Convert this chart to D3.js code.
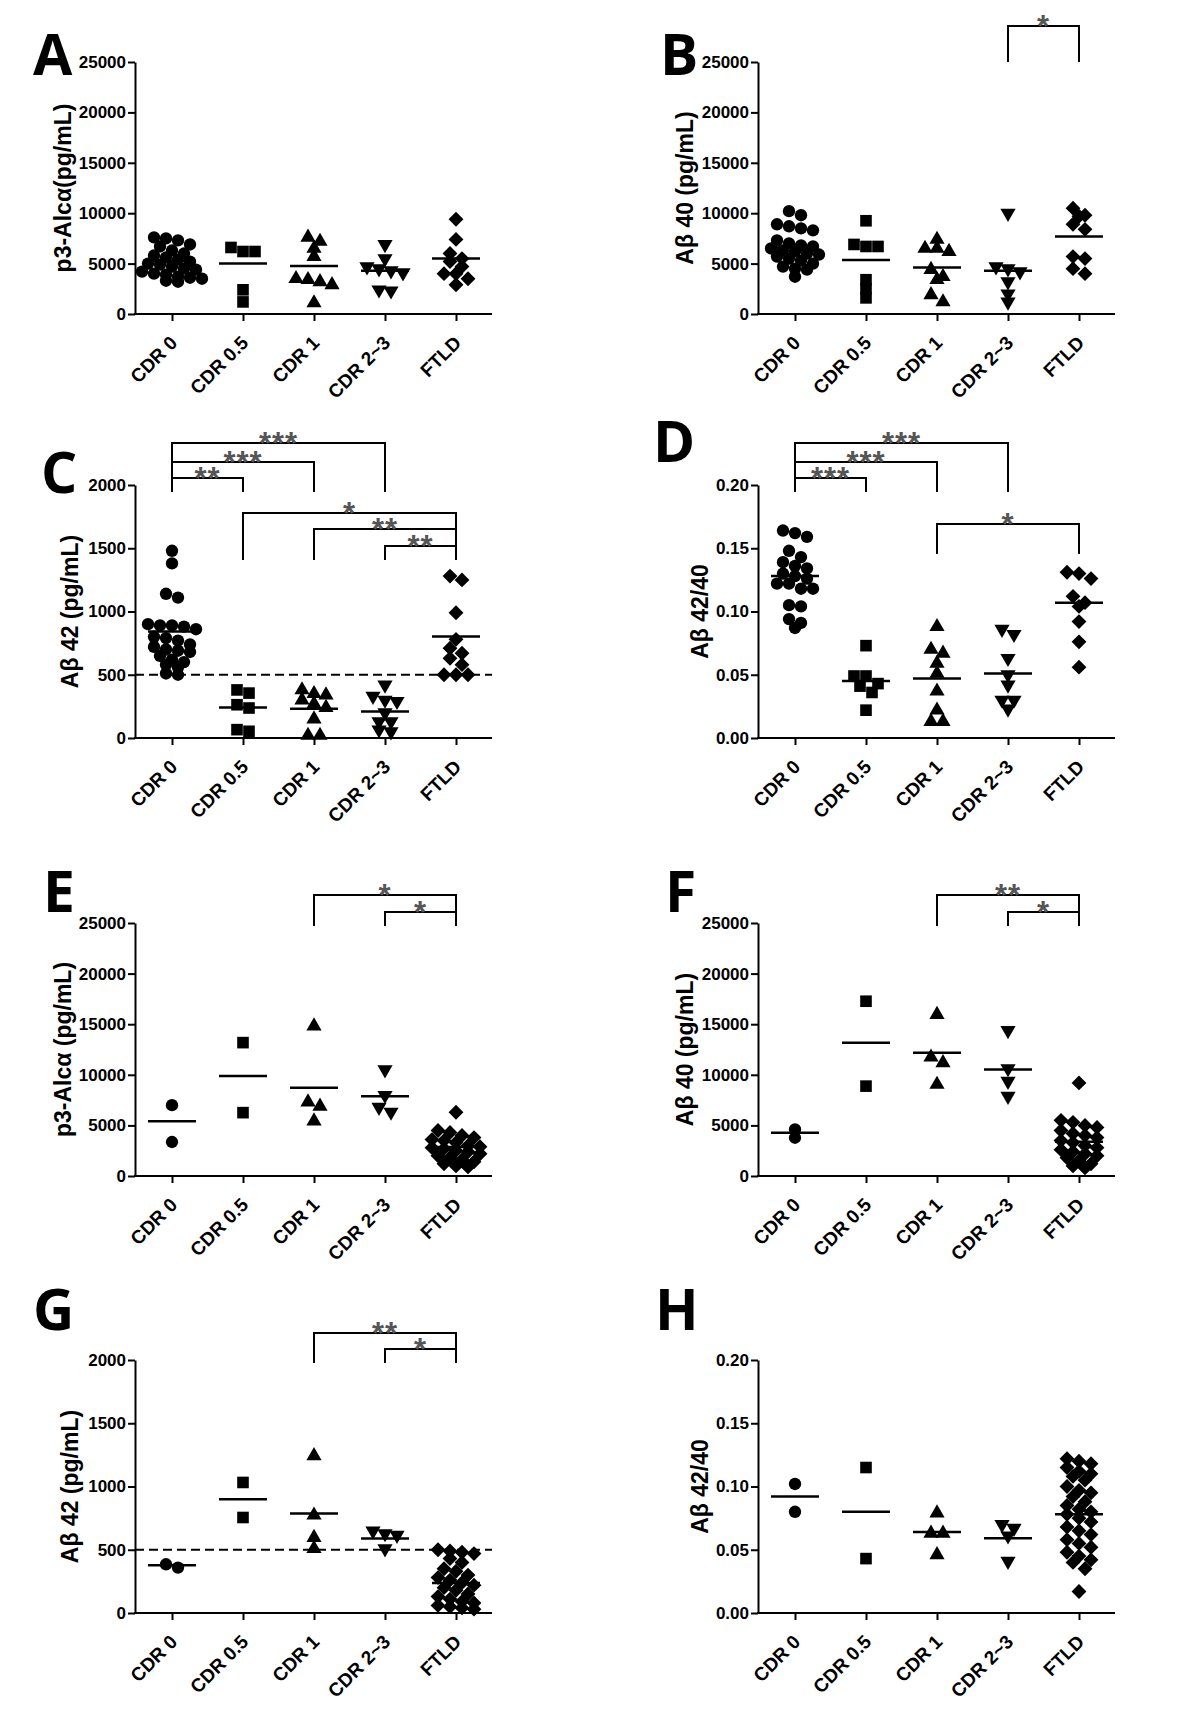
<!DOCTYPE html>
<html><head><meta charset="utf-8">
<script src="https://cdn.jsdelivr.net/npm/d3@7"></script>
<style>
body{margin:0;background:#fff}
svg text{font-family:"Liberation Sans",Arial,Helvetica,sans-serif;}
</style>
</head><body>
<svg id="c" width="1200" height="1714"></svg>
<script>
// ---------------- DATA ----------------
const categories = ["CDR 0", "CDR 0.5", "CDR 1", "CDR 2~3", "FTLD"];

const ticksConc = [0, 5000, 10000, 15000, 20000, 25000];
const ticksAb42 = [0, 500, 1000, 1500, 2000];
const ticksRatio = [0, 0.05, 0.10, 0.15, 0.20];

// Panel A: p3-Alcα (pg/mL)
const valuesA = [
  [7600, 7500, 7300, 6900, 6700, 6300, 6000, 5800, 5600, 5400, 5200, 5000, 4900, 4700, 4500, 4400, 4200, 4000, 3900, 3700, 3600, 3500, 3300, 3200],
  [6600, 6200, 6200, 2400, 1200],
  [7600, 7200, 6500, 5700, 3500, 3400, 3200, 2900, 1100],
  [6900, 5500, 4700, 4500, 4300, 4100, 2400, 2300],
  [9400, 7400, 6000, 5500, 5200, 4700, 4000, 4000, 3500, 2900]
];
const meansA = [5250, 5020, 4750, 4300, 5500];

// Panel B: Aβ 40 (pg/mL)
const valuesB = [
  [10200, 9800, 8900, 8700, 8500, 8300, 7300, 7000, 6800, 6700, 6500, 6300, 6200, 6000, 5900, 5700, 5500, 5300, 5000, 4700, 4500, 4400, 3700],
  [9250, 6900, 6700, 6700, 3400, 2500, 1600],
  [7400, 6500, 6500, 6200, 4400, 3700, 3400, 1900, 1200],
  [10000, 4700, 4500, 4200, 3200, 2000, 1200],
  [10500, 9800, 9700, 8900, 8400, 5700, 5500, 4500, 4000]
];
const meansB = [6600, 5350, 4620, 4300, 7700];

// Panel C: Aβ 42 (pg/mL)
const valuesC = [
  [1480, 1380, 1140, 1110, 900, 890, 890, 880, 860, 800, 790, 770, 740, 720, 700, 690, 680, 650, 620, 600, 580, 560, 510, 500],
  [380, 355, 263, 237, 66, 53],
  [380, 350, 340, 300, 270, 240, 150, 20, 20],
  [420, 330, 300, 290, 200, 130, 130, 65, 50],
  [1280, 1250, 990, 780, 710, 670, 630, 580, 500, 500, 500]
];
const meansC = [842, 242, 232, 210, 803];

// Panel D: Aβ 42/40
const valuesD = [
  [0.164, 0.162, 0.159, 0.148, 0.143, 0.139, 0.136, 0.134, 0.130, 0.128, 0.126, 0.122, 0.122, 0.118, 0.118, 0.105, 0.104, 0.094, 0.091, 0.087],
  [0.073, 0.049, 0.049, 0.043, 0.041, 0.036, 0.022],
  [0.088, 0.070, 0.067, 0.059, 0.051, 0.037, 0.022, 0.013, 0.013],
  [0.086, 0.082, 0.063, 0.050, 0.042, 0.030, 0.030, 0.023],
  [0.131, 0.130, 0.126, 0.112, 0.107, 0.104, 0.092, 0.076, 0.056]
];
const meansD = [0.128, 0.045, 0.047, 0.051, 0.107];

// Panel E: p3-Alcα (pg/mL)
const valuesE = [
  [7000, 3360],
  [13180, 6260],
  [14820, 7300, 6880, 5430],
  [10500, 7970, 6800, 6320],
  [6300, 4500, 4300, 4000, 3800, 3600, 3500, 3300, 3000, 2900, 2800, 2700, 2500, 2400, 2200, 2000, 1800, 1600, 1400, 1200, 1000, 900]
];
const meansE = [5400, 9880, 8730, 7870, 2870];

// Panel F: Aβ 40 (pg/mL)
const valuesF = [
  [4600, 3780],
  [17270, 8880],
  [15950, 11740, 11180, 9050],
  [14380, 10620, 9375, 7890],
  [9200, 5500, 5300, 5000, 4800, 4500, 4200, 4000, 3800, 3500, 3300, 3000, 2800, 2600, 2400, 2200, 2000, 1800, 1500, 1200, 1000, 800]
];
const meansF = [4280, 13160, 12170, 10530, 3390];

// Panel G: Aβ 42 (pg/mL)
const valuesG = [
  [385, 359],
  [1032, 755],
  [1243, 773, 596, 509],
  [649, 628, 615, 509],
  [500, 490, 480, 470, 430, 400, 350, 330, 300, 280, 260, 240, 220, 200, 180, 150, 130, 110, 90, 80, 60, 50, 40, 30]
];
const meansG = [377, 900, 786, 588, 237];

// Panel H: Aβ 42/40
const valuesH = [
  [0.102, 0.080],
  [0.115, 0.043],
  [0.079, 0.063, 0.063, 0.046],
  [0.070, 0.067, 0.061, 0.041],
  [0.122, 0.120, 0.118, 0.115, 0.112, 0.110, 0.108, 0.105, 0.100, 0.097, 0.095, 0.092, 0.088, 0.085, 0.082, 0.080, 0.078, 0.075, 0.072, 0.068, 0.065, 0.062, 0.058, 0.055, 0.052, 0.048, 0.045, 0.042, 0.040, 0.035, 0.017]
];
const meansH = [0.092, 0.080, 0.064, 0.059, 0.078];

// Significance brackets: [from group, to group, bar level, leg bottom, stars]
const bracketsA = [];
const bracketsB = [[3, 4, 28571, 25000, "*"]];
const bracketsC = [[0, 3, 2332, 1945, "***"], [0, 2, 2182, 1945, "***"], [0, 1, 2055, 1945, "**"],
                   [1, 4, 1779, 1407, "*"], [2, 4, 1652, 1407, "**"], [3, 4, 1518, 1407, "**"]];
const bracketsD = [[0, 3, 0.2332, 0.1945, "***"], [0, 2, 0.2182, 0.1945, "***"], [0, 1, 0.2055, 0.1945, "***"],
                   [2, 4, 0.1692, 0.1455, "*"]];
const bracketsE = [[2, 4, 27767, 24704, "*"], [3, 4, 26087, 24704, "*"]];
const bracketsF = [[2, 4, 27767, 24704, "**"], [3, 4, 26087, 24704, "*"]];
const bracketsG = [[2, 4, 2213, 1976, "**"], [3, 4, 2087, 1976, "*"]];
const bracketsH = [];

const cutoffAb42 = 500;

// ---------------- LAYOUT ----------------
const L = {axisX: 135, x0: 172, xEnd: 492};
const R = {axisX: 758, x0: 795, xEnd: 1115};
const rows = [{top: 62, bottom: 314}, {top: 485, bottom: 738}, {top: 923, bottom: 1176}, {top: 1360, bottom: 1613}];
const fmtInt = d3.format("d"), fmtRatio = d3.format(".2f");

const panels = [
  {letter: "A", lx: 33, ly: 75, side: L, row: rows[0], values: valuesA, means: meansA, ticks: ticksConc, fmt: fmtInt, title: "p3-Alcα(pg/mL)", tx: 63, brackets: bracketsA},
  {letter: "B", lx: 660, ly: 75, side: R, row: rows[0], values: valuesB, means: meansB, ticks: ticksConc, fmt: fmtInt, title: "Aβ 40 (pg/mL)", tx: 685, brackets: bracketsB},
  {letter: "C", lx: 41, ly: 493, side: L, row: rows[1], values: valuesC, means: meansC, ticks: ticksAb42, fmt: fmtInt, title: "Aβ 42 (pg/mL)", tx: 70, brackets: bracketsC, cutoff: cutoffAb42},
  {letter: "D", lx: 653, ly: 462, side: R, row: rows[1], values: valuesD, means: meansD, ticks: ticksRatio, fmt: fmtRatio, title: "Aβ 42/40", tx: 700, brackets: bracketsD},
  {letter: "E", lx: 43, ly: 912, side: L, row: rows[2], values: valuesE, means: meansE, ticks: ticksConc, fmt: fmtInt, title: "p3-Alcα (pg/mL)", tx: 63, brackets: bracketsE},
  {letter: "F", lx: 665, ly: 912, side: R, row: rows[2], values: valuesF, means: meansF, ticks: ticksConc, fmt: fmtInt, title: "Aβ 40 (pg/mL)", tx: 685, brackets: bracketsF},
  {letter: "G", lx: 33, ly: 1330, side: L, row: rows[3], values: valuesG, means: meansG, ticks: ticksAb42, fmt: fmtInt, title: "Aβ 42 (pg/mL)", tx: 70, brackets: bracketsG, cutoff: cutoffAb42},
  {letter: "H", lx: 655, ly: 1330, side: R, row: rows[3], values: valuesH, means: meansH, ticks: ticksRatio, fmt: fmtRatio, title: "Aβ 42/40", tx: 700, brackets: bracketsH}
];

const symbols = [
  {type: d3.symbolCircle, size: 120, rot: 0},
  {type: d3.symbolSquare, size: 135, rot: 0},
  {type: d3.symbolTriangle, size: 100, rot: 0},
  {type: d3.symbolTriangle, size: 100, rot: 180},
  {type: d3.symbolSquare, size: 110, rot: 45}
];

function swarm(vals, y, w, thr) {
  const pts = vals.map(v => ({v, py: y(v)})).sort((a, b) => a.py - b.py);
  const rws = [];
  let cur = null;
  for (const p of pts) {
    if (cur && p.py - cur[0].py < thr) cur.push(p);
    else { cur = [p]; rws.push(cur); }
  }
  rws.forEach(r => r.forEach((p, i) => p.dx = (i - (r.length - 1) / 2) * w));
  return pts;
}

const svg = d3.select("#c");

panels.forEach(P => {
  const g = svg.append("g");
  const x = d3.scalePoint().domain(categories).range([P.side.x0, P.side.x0 + 284]);
  const yMax = P.ticks[P.ticks.length - 1];
  const y = d3.scaleLinear().domain([0, yMax]).range([P.row.bottom, P.row.top]);

  // panel letter
  g.append("text").attr("x", P.lx).attr("y", P.ly).text(P.letter)
    .style("font-family", "'Open Sans', sans-serif").style("font-weight", 700).style("font-size", "57px");

  // y axis
  const ya = g.append("g").attr("transform", `translate(${P.side.axisX},0)`)
    .call(d3.axisLeft(y).tickValues(P.ticks).tickFormat(P.fmt).tickSize(7).tickSizeOuter(0).tickPadding(2));
  ya.selectAll("path,line").attr("stroke", "#000").attr("stroke-width", 2);
  ya.selectAll("text").attr("fill", "#000").style("font-size", "17px").style("font-weight", 700);

  // x axis
  g.append("line").attr("x1", P.side.axisX - 1).attr("x2", P.side.xEnd)
    .attr("y1", P.row.bottom).attr("y2", P.row.bottom).attr("stroke", "#000").attr("stroke-width", 2);
  const xa = g.append("g").attr("transform", `translate(0,${P.row.bottom})`)
    .call(d3.axisBottom(x).tickSize(7).tickSizeOuter(0));
  xa.select(".domain").remove();
  xa.selectAll("line").attr("stroke", "#000").attr("stroke-width", 2);
  xa.selectAll("text")
    .attr("fill", "#000")
    .attr("text-anchor", "end")
    .attr("x", 0).attr("y", 0).attr("dy", 0)
    .attr("transform", "translate(6,30) rotate(-45)")
    .style("font-size", "19px").style("font-weight", 700);

  // y title
  g.append("text")
    .attr("transform", `translate(${P.tx},${(P.row.top + P.row.bottom) / 2}) rotate(-90)`)
    .attr("text-anchor", "middle").attr("dy", "0.35em")
    .style("font-size", "23px").style("font-weight", 700)
    .text(P.title);

  // cutoff dashed line
  if (P.cutoff !== undefined) {
    g.append("line").attr("x1", P.side.axisX).attr("x2", P.side.xEnd)
      .attr("y1", y(P.cutoff)).attr("y2", y(P.cutoff))
      .attr("stroke", "#000").attr("stroke-width", 2).attr("stroke-dasharray", "9,5");
  }

  // points
  P.values.forEach((vals, gi) => {
    const cx = x(categories[gi]);
    const s = symbols[gi];
    const pts = swarm(vals, y, 12, 8);
    g.selectAll(null).data(pts).enter().append("path")
      .attr("d", d3.symbol().type(s.type).size(s.size))
      .attr("transform", d => `translate(${cx + d.dx},${d.py}) rotate(${s.rot})`)
      .attr("fill", "#000");
  });

  // mean lines
  g.selectAll(null).data(P.means).enter().append("line")
    .attr("x1", (d, i) => x(categories[i]) - 24).attr("x2", (d, i) => x(categories[i]) + 24)
    .attr("y1", d => y(d)).attr("y2", d => y(d))
    .attr("stroke", "#000").attr("stroke-width", 2.5);

  // brackets
  P.brackets.forEach(([a, b, lev, leg, lab]) => {
    const xa1 = x(categories[a]), xb1 = x(categories[b]);
    g.append("path")
      .attr("d", `M${xa1},${y(leg)}V${y(lev)}H${xb1}V${y(leg)}`)
      .attr("fill", "none").attr("stroke", "#000").attr("stroke-width", 2);
    g.append("text").attr("x", (xa1 + xb1) / 2).attr("y", y(lev) + 11)
      .attr("text-anchor", "middle").attr("fill", "#555")
      .style("font-size", "31px").style("font-weight", 700).style("letter-spacing", "1px")
      .text(lab);
  });
});
</script>
</body></html>
